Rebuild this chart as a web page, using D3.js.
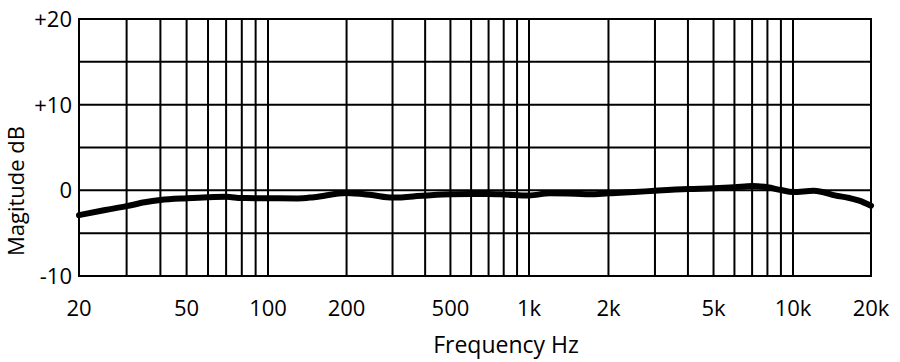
<!DOCTYPE html>
<html>
<head>
<meta charset="utf-8">
<script src="https://cdn.jsdelivr.net/npm/d3@7"></script>
<style>
  body { margin: 0; background: #fff; }
  text { font-family: "Open Sans", sans-serif; fill: #000; }
</style>
</head>
<body>
<script>
// Frequency response data
var freqs = [20, 25, 30, 35, 40, 50, 60, 70, 80, 100, 130, 150, 200, 250, 300, 400, 500, 600, 700, 800,
             1000, 1200, 1500, 1700, 2000, 2500, 3000, 4000, 5000, 6000, 7000, 8000, 9000, 10000,
             12000, 13000, 14500, 16500, 18000, 20000];
var magnitude = [-2.9, -2.3, -1.85, -1.4, -1.13, -0.92, -0.8, -0.75, -0.9, -0.92, -0.95, -0.8, -0.3, -0.55, -0.85, -0.6, -0.45, -0.42, -0.43, -0.48,
                 -0.6, -0.35, -0.4, -0.45, -0.35, -0.2, -0.05, 0.15, 0.23, 0.35, 0.5, 0.35, 0.03, -0.2,
                 -0.05, -0.2, -0.58, -0.9, -1.2, -1.8];

// grid lines and tick labels
var gridFreqs = [20, 30, 40, 50, 60, 70, 80, 90, 100, 200, 300, 400, 500, 600, 700, 800, 900,
                 1000, 2000, 3000, 4000, 5000, 6000, 7000, 8000, 9000, 10000, 20000];
var xTickValues = [20, 50, 100, 200, 500, 1000, 2000, 5000, 10000, 20000];
var xTickLabels = ["20", "50", "100", "200", "500", "1k", "2k", "5k", "10k", "20k"];
var gridDb = [-10, -5, 0, 5, 10, 15, 20];
var yTickValues = [20, 10, 0, -10];
var yTickLabels = ["+20", "+10", "0", "-10"];

var w = 900, h = 362;

var svg = d3.select("body")
  .append("svg")
  .attr("width", w)
  .attr("height", h);

// log scale, piecewise per decade like the printed grid
var x = d3.scaleLog()
  .domain([20, 100, 1000, 10000, 20000])
  .range([79, 268, 529, 793, 871]);

var y = d3.scaleLinear()
  .domain([-10, 20])
  .range([276, 19]);

// vertical grid
svg.append("g").selectAll("line")
  .data(gridFreqs)
  .enter()
  .append("line")
  .attr("x1", function(d) { return x(d); })
  .attr("x2", function(d) { return x(d); })
  .attr("y1", y(20))
  .attr("y2", y(-10))
  .attr("stroke", "#000")
  .attr("stroke-width", 2);

// horizontal grid
svg.append("g").selectAll("line")
  .data(gridDb)
  .enter()
  .append("line")
  .attr("x1", x(20) - 1)
  .attr("x2", x(20000) + 1)
  .attr("y1", function(d) { return y(d); })
  .attr("y2", function(d) { return y(d); })
  .attr("stroke", "#000")
  .attr("stroke-width", 2);

// y tick labels
svg.append("g").selectAll("text")
  .data(yTickValues)
  .enter()
  .append("text")
  .attr("x", 72)
  .attr("y", function(d) { return y(d); })
  .attr("dy", "0.36em")
  .attr("text-anchor", "end")
  .attr("font-size", "22px")
  .text(function(d, i) { return yTickLabels[i]; });

// x tick labels
svg.append("g").selectAll("text")
  .data(xTickValues)
  .enter()
  .append("text")
  .attr("x", function(d) { return x(d); })
  .attr("y", 316)
  .attr("text-anchor", "middle")
  .attr("font-size", "22px")
  .text(function(d, i) { return xTickLabels[i]; });

// axis titles
svg.append("text")
  .attr("x", 506)
  .attr("y", 353)
  .attr("text-anchor", "middle")
  .attr("font-size", "23px")
  .text("Frequency Hz");

svg.append("text")
  .attr("transform", "translate(24,191) rotate(-90)")
  .attr("text-anchor", "middle")
  .attr("font-size", "22px")
  .text("Magitude dB");

// response curve
var line = d3.line()
  .x(function(d, i) { return x(freqs[i]); })
  .y(function(d) { return y(d); })
  .curve(d3.curveMonotoneX);

svg.append("path")
  .datum(magnitude)
  .attr("d", line)
  .attr("fill", "none")
  .attr("stroke", "#000")
  .attr("stroke-width", 6)
  .attr("stroke-linecap", "round")
  .attr("stroke-linejoin", "round");
</script>
</body>
</html>
